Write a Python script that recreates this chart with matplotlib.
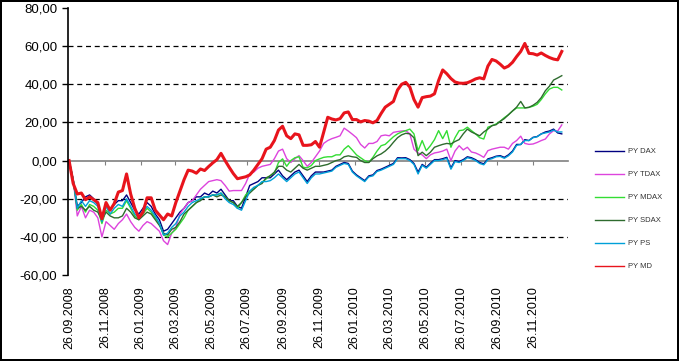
import matplotlib
matplotlib.use('Agg')
import matplotlib.pyplot as plt
import matplotlib.dates as mdates
from matplotlib.ticker import FuncFormatter
import pandas as pd

plt.rcParams['font.family'] = ['Liberation Sans', 'DejaVu Sans']

# weekly observations starting 26.09.2008
dates = pd.date_range('2008-09-26', periods=121, freq='7D')

py_dax = [0, -10, -24, -22, -19, -18, -20, -23, -30, -23, -26, -23, -21, -21, -18, -22, -26, -28, -25, -22, -24,
          -28, -31, -37, -36, -33, -30, -27, -25, -22, -21, -19, -19, -17, -18, -16, -17, -15, -18, -21, -21, -24,
          -25, -19, -13, -12, -11, -9, -9, -9, -7, -5, -8, -10, -8, -6, -5, -8, -11, -8, -6, -6,
          -6, -5.5, -5, -3, -2, -1, -1.5, -5.5, -7.5, -9, -10.5, -8, -7.5, -5.2, -4.5, -3.5, -2.5, -1.5, 1.5, 1.4,
          1.5, 0.5, -1.5, -6, -2, -3.5, -1.4,
          0.5, 0.5, 1, 1.7, -3.8, 0, -0.5, 0.5, 2, 1.5, 0.5, -1, -1.7, 0.9, 1.5, 2.3, 2.6,
          1.7, 3, 5, 8.5, 8.4, 11, 10.5, 12.2, 12.6, 14, 15, 15.5, 16.5, 14.5, 14]

py_tdax = [0, -10, -29, -24, -30, -26, -27, -30, -40, -32, -34, -36, -33, -31, -28, -32, -35, -37, -34, -32, -33,
           -35, -37, -42, -44, -38, -35, -28, -25, -22, -21, -18, -15, -13, -11, -10.5, -10, -10.5, -13, -16, -15.7,
           -15.7, -15.7, -12, -7, -6, -4, -3, -2.5, -2, 1, 5, 6, 1, -1, 1, 2.6, 0, -3, -1, 2, 5,
           9, 10.5, 11.5, 12.2, 13, 17, 15.5, 13.8, 12, 8.5, 6.6, 9, 9, 10, 13, 13.4, 13, 14.8, 15.2, 15.5,
           15.7, 14, 6, 4, 3, 1, 3,
           4, 4.4, 5, 6, 0, 5, 7.8, 5.6, 7, 4.5, 4, 3, 1.7, 5.2, 6, 6.5, 7,
           7, 6, 9, 10.5, 12.8, 9, 8.5, 8.7, 9.5, 10.5, 11.3, 14, 15.7, 15.5, 18.7]

py_mdax = [0, -10, -26, -23, -27, -23, -24, -26, -33, -26, -28, -27, -25, -25, -21, -25, -29, -31, -28, -25, -27,
           -30, -33, -39, -40, -38, -36, -33, -30, -26, -24, -22, -20, -19, -19, -18, -18, -17, -19, -21, -22,
           -25, -22, -18, -16, -14.8, -13, -11.3, -9.6, -7.8, -6.5, -1, 0.9, -3, 0, 1.5, 2, -3.5, -3.8, -2.6, 0, 0.9,
           1.7, 2, 2, 3, 3, 6, 7.8, 5.5, 3, 1.5, 0, -0.9, 1.7, 5, 7.8, 8.5, 10.5, 12.5, 14, 15,
           15.7, 16.5, 14, 5.2, 10.5, 5.2, 7.8,
           11, 15.7, 11.5, 15.7, 7, 12, 15.7, 16, 17.5, 15.7, 14, 12, 11.3, 17.5, 18.3, 19.2, 20.6,
           22.5, 24, 26, 27.6, 27.6, 27.6, 27.9, 28.5, 29.5, 32, 35, 37.5, 38.4, 38.4, 37]

py_sdax = [0, -10, -25, -24, -26, -24, -26, -27, -31, -27, -29, -30, -30, -29, -25, -27, -30, -31, -29, -27, -28,
           -31, -34, -38, -39, -36, -35, -32, -28, -26, -24, -22, -21, -19, -19, -18, -19, -18, -19, -21, -22,
           -24, -22, -19, -17, -15, -13, -12, -9, -8, -6, -3, -3, -5, -6, -4, -2, -4, -5, -4, -3, -3,
           -2.5, -2, -1, 0, 0.5, 2, 2.5, 2, 1.7, 0, -1, -1, 1, 2.5, 3.5, 5, 7, 9.6, 12, 13.5,
           14.3, 14, 12, 2.6, 4.4, 2.6, 4.4,
           7, 7.8, 8.5, 9, 8.7, 10, 11, 14, 16.5, 15, 14, 13, 15, 16.5, 18.3, 18.8, 20.6,
           22, 24, 26, 28, 31, 27.6, 27.9, 29, 30.5, 33, 36.6, 39, 42.2, 43.3, 44.5]

py_ps = [0, -10, -25, -21, -24, -21, -22, -24, -32, -24, -28, -25, -23, -24, -20, -24, -28, -30, -27, -24, -26,
         -29, -33, -39, -38, -35, -33, -29, -27, -24, -22, -21, -20, -19, -19, -18, -18, -17, -20, -22, -23,
         -25, -26, -21, -16, -14, -13, -11, -11, -10.5, -9, -7, -9, -11, -9, -7, -6, -9, -12, -9, -7, -7,
         -6.5, -6, -5.5, -3.5, -2.5, -1.5, -2, -6, -8, -9.5, -11, -8.5, -8, -5.7, -5, -4, -3, -2, 1, 1,
         1, 0, -2, -7, -2.5, -4, -2,
         0, 0, 0.5, 1.2, -4.5, -0.5, -1, 0, 1.5, 1, 0, -1.5, -2.2, 0.4, 1, 2, 2.2,
         1.2, 2.5, 4.5, 8, 8.5, 10.5, 10.5, 12, 12.5, 14, 14.5, 15, 16, 15, 15]

py_md = [0, -12, -17.5, -17, -20.5, -19, -20.5, -22, -30.5, -22, -26, -22.5, -16.5, -15.7, -7, -17.5, -25, -30, -27, -19.5, -19.5,
         -26, -28.5, -31, -28, -29, -22, -16, -10, -5, -5.5, -6.6, -4.4, -5.2, -3.1, -1.2, 0.5, 3.8, 0, -3.5, -6.8,
         -9.5, -9, -8.5, -7.5, -5, -2, 1, 6, 7, 10.5, 16, 18, 13, 11.5, 14, 13.5, 8, 8, 8.3, 10, 7,
         14.8, 22.7, 21.8, 21.3, 22, 25, 25.5, 21.5, 21.5, 20.3, 21, 20.7, 19.8, 21, 24.7, 28, 29.5, 31, 37, 40,
         41, 38.5, 32, 28, 33, 33.5, 33.8,
         35, 42, 47.5, 45.5, 43, 41.2, 40.6, 40.5, 40.8, 41.7, 42.8, 43.4, 42.8, 49.5, 53, 52.2, 50.5,
         48.5, 49.5, 51.5, 54.5, 57.2, 61.4, 56.2, 56, 55.3, 56.4, 55.1, 54, 53.2, 52.8, 57.2]

series_names = ['PY DAX', 'PY TDAX', 'PY MDAX', 'PY SDAX', 'PY PS', 'PY MD']
series_values = [py_dax, py_tdax, py_mdax, py_sdax, py_ps, py_md]
series_colors = ['#000080', '#dd44dd', '#33dd33', '#2e6b2e', '#00a0d8', '#e8141c']
series_widths = [1.0, 1.0, 1.0, 1.0, 1.0, 2.2]

tick_dates = pd.date_range('2008-09-26', periods=14, freq=pd.DateOffset(months=2))
y_ticks = [-60, -40, -20, 0, 20, 40, 60, 80]

fig = plt.figure(figsize=(6.79, 3.61), dpi=100)
fig.patch.set_edgecolor('black')
fig.patch.set_linewidth(1.5)
ax = fig.add_axes([0.100, 0.238, 0.736, 0.740])

for name, vals, col, lw in zip(series_names, series_values, series_colors, series_widths):
    ax.plot(dates, vals, color=col, linewidth=lw, label=name)

# Achsen
ax.set_ylim(-60, 80)
ax.set_yticks(y_ticks)
ax.yaxis.set_major_formatter(FuncFormatter(lambda v, p: f'{v:.2f}'.replace('.', ',')))
ax.set_xlim(dates[0] - pd.Timedelta(days=2), dates[0] + pd.Timedelta(days=850))
ax.set_xticks(tick_dates)
ax.xaxis.set_major_formatter(mdates.DateFormatter('%d.%m.%Y'))
ax.tick_params(axis='x', length=0, rotation=90, labelsize=9, pad=8)
ax.tick_params(axis='y', length=4, direction='out', labelsize=9.5, width=1)
for s in ['top', 'right', 'bottom']:
    ax.spines[s].set_visible(False)
ax.spines['left'].set_linewidth(1.2)

# Gitter
for g in [60, 40, 20, -20, -40]:
    ax.axhline(g, color='black', linestyle=(0, (4, 3)), linewidth=0.9, zorder=0)

# Nulllinie mit Teilstrichen
zero = ax.secondary_xaxis(60 / 140)
zero.set_xticks(tick_dates)
zero.tick_params(length=3, direction='out', color='#808080', labelbottom=False)
zero.xaxis.set_major_formatter(FuncFormatter(lambda v, p: ''))
zero.spines['bottom'].set_color('#808080')
zero.spines['bottom'].set_linewidth(1.2)

leg = ax.legend(loc='upper left', bbox_to_anchor=(1.048, 0.487), borderaxespad=0, frameon=False,
                fontsize=5.5, handlelength=3.9, labelspacing=2.05, handletextpad=0.4)
for line in leg.get_lines():
    line.set_linewidth(1.0)
for t in leg.get_texts():
    t.set_color('#333333')

fig.savefig('out.png', dpi=100)
